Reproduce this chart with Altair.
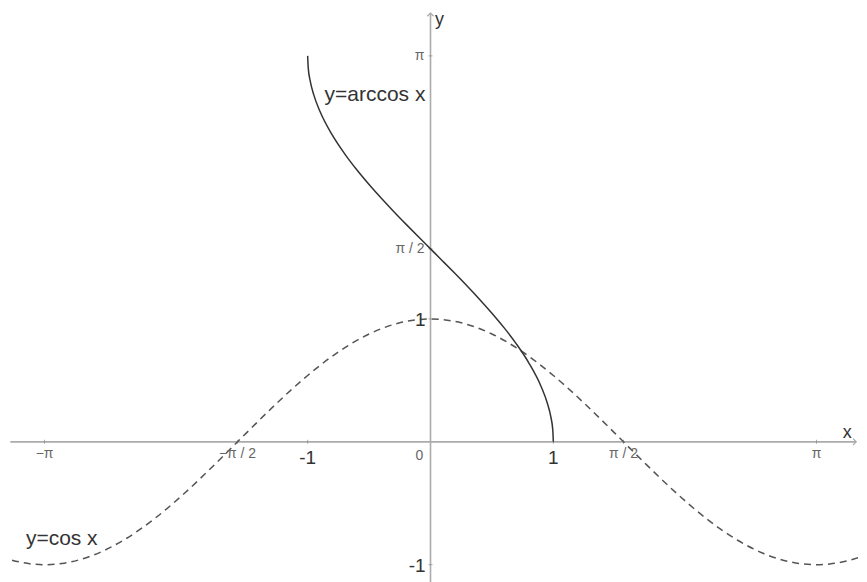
import altair as alt
import pandas as pd

# y = cos x
cos_x = [-3.5, -3.25, -3.1416, -3.0, -2.75, -2.5, -2.25, -2.0, -1.75, -1.5708, -1.5, -1.25,
         -1.0, -0.75, -0.5, -0.25, 0.0, 0.25, 0.5, 0.75, 1.0, 1.25, 1.5, 1.5708, 1.75,
         2.0, 2.25, 2.5, 2.75, 3.0, 3.1416, 3.25, 3.5, 3.6]
cos_y = [-0.9365, -0.9941, -1.0, -0.9900, -0.9243, -0.8011, -0.6282, -0.4161, -0.1782, 0.0, 0.0707, 0.3153,
         0.5403, 0.7317, 0.8776, 0.9689, 1.0, 0.9689, 0.8776, 0.7317, 0.5403, 0.3153, 0.0707, 0.0, -0.1782,
         -0.4161, -0.6282, -0.8011, -0.9243, -0.9900, -1.0, -0.9941, -0.9365, -0.8968]

# y = arccos x (solid curve)
acos_x = [-1.0, -0.995, -0.98, -0.95, -0.9, -0.8, -0.7, -0.6, -0.5, -0.4, -0.3, -0.2, -0.1, 0.0,
          0.1, 0.2, 0.3, 0.4, 0.5, 0.6, 0.7, 0.8, 0.9, 0.95, 0.98, 0.995, 1.0]
acos_y = [3.1416, 3.0415, 2.9413, 2.8240, 2.6906, 2.4981, 2.3462, 2.2143, 2.0944, 1.9823, 1.8755, 1.7722, 1.6710, 1.5708,
          1.4706, 1.3694, 1.2661, 1.1593, 1.0472, 0.9273, 0.7954, 0.6435, 0.4510, 0.3176, 0.2003, 0.1001, 0.0]

# axis tick labels
x_small_ticks = [-3.1416, -1.5708, 1.5708, 3.1416]
x_small_labels = ["\u2212\u03c0", "\u2212\u03c0 / 2", "\u03c0 / 2", "\u03c0"]
x_big_ticks = [-1.0, 1.0]
x_big_labels = ["-1", "1"]
y_small_ticks = [3.1416, 1.5708]
y_small_labels = ["\u03c0", "\u03c0 / 2"]
y_big_ticks = [1.0, -1.0]
y_big_labels = ["1", "-1"]

# axis extents
x_axis_from, x_axis_to = -3.42, 3.465
y_axis_from, y_axis_to = -1.2, 3.49

# curve names
curve_names = ["y=arccos x", "y=cos x"]
curve_name_x = [-0.862, -3.293]
curve_name_y = [2.821, -0.789]

XDOM = [-3.439, 3.4797]
YDOM = [-1.0732, 3.5285]
FONT = "Liberation Sans"

xs = alt.Scale(domain=XDOM, nice=False, zero=False)
ys = alt.Scale(domain=YDOM, nice=False, zero=False)


def X(field="x"):
    return alt.X(field, type="quantitative", scale=xs, axis=None)


def Y(field="y"):
    return alt.Y(field, type="quantitative", scale=ys, axis=None)


cos_df = pd.DataFrame({"x": cos_x, "y": cos_y})
acos_df = pd.DataFrame({"x": acos_x, "y": acos_y})

axis_color = "#ababab"

xaxis = alt.Chart(pd.DataFrame({"x": [x_axis_from], "x2": [x_axis_to], "y": [0.0]})).mark_rule(
    color=axis_color, strokeWidth=1.6).encode(x=X(), x2="x2:Q", y=Y())
yaxis = alt.Chart(pd.DataFrame({"x": [0.0], "y": [y_axis_from], "y2": [y_axis_to]})).mark_rule(
    color=axis_color, strokeWidth=1.6).encode(x=X(), y=Y(), y2="y2:Q")

xarrow = alt.Chart(pd.DataFrame({"x": [x_axis_to], "y": [0.0]})).mark_point(
    shape="M-1,-1L0,0L-1,1", size=40, filled=False, color=axis_color, strokeWidth=1.2, opacity=1
).encode(x=X(), y=Y())
yarrow = alt.Chart(pd.DataFrame({"x": [0.0], "y": [y_axis_to]})).mark_point(
    shape="M-1,1L0,0L1,1", size=40, filled=False, color=axis_color, strokeWidth=1.2, opacity=1
).encode(x=X(), y=Y())

xt_df = pd.DataFrame({"x": x_small_ticks + x_big_ticks, "y": [0.0] * 6})
xticks = alt.Chart(xt_df).mark_tick(orient="vertical", size=4, thickness=1, color="#888").encode(x=X(), y=Y())
yt_df = pd.DataFrame({"y": y_small_ticks + y_big_ticks, "x": [0.0] * 4})
yticks = alt.Chart(yt_df).mark_tick(orient="horizontal", size=4, thickness=1, color="#888").encode(x=X(), y=Y())

cos_line = alt.Chart(cos_df).mark_line(
    color="#555555", strokeWidth=1.5, strokeDash=[7, 5], interpolate="monotone", clip=True
).encode(x=X(), y=Y(), order="x:Q")
acos_line = alt.Chart(acos_df).mark_line(
    color="#333333", strokeWidth=1.5, interpolate="monotone", clip=True
).encode(x=X(), y=Y(), order="x:Q")

xl_small = alt.Chart(pd.DataFrame({"x": x_small_ticks, "y": [0.0] * 4, "t": x_small_labels})).mark_text(
    font=FONT, fontSize=14, color="#666666", baseline="alphabetic", align="center", dy=16
).encode(x=X(), y=Y(), text="t:N")
xl_big = alt.Chart(pd.DataFrame({"x": x_big_ticks, "y": [0.0] * 2, "t": x_big_labels})).mark_text(
    font=FONT, fontSize=19, color="#333333", baseline="alphabetic", align="center", dy=22
).encode(x=X(), y=Y(), text="t:N")
zero = alt.Chart(pd.DataFrame({"x": [0.0], "y": [0.0], "t": ["0"]})).mark_text(
    font=FONT, fontSize=14, color="#666666", baseline="alphabetic", align="center", dx=-11, dy=18
).encode(x=X(), y=Y(), text="t:N")
yl_small = alt.Chart(pd.DataFrame({"x": [0.0] * 2, "y": y_small_ticks, "t": y_small_labels})).mark_text(
    font=FONT, fontSize=14, color="#666666", baseline="middle", align="right", dx=-6
).encode(x=X(), y=Y(), text="t:N")
yl_big = alt.Chart(pd.DataFrame({"x": [0.0] * 2, "y": y_big_ticks, "t": y_big_labels})).mark_text(
    font=FONT, fontSize=19, color="#333333", baseline="middle", align="right", dx=-5, dy=1
).encode(x=X(), y=Y(), text="t:N")

xname = alt.Chart(pd.DataFrame({"x": [x_axis_to], "y": [0.0], "t": ["x"]})).mark_text(
    font=FONT, fontSize=18, color="#333333", baseline="alphabetic", align="center", dx=-9, dy=-4
).encode(x=X(), y=Y(), text="t:N")
yname = alt.Chart(pd.DataFrame({"x": [0.0], "y": [y_axis_to], "t": ["y"]})).mark_text(
    font=FONT, fontSize=18, color="#333333", baseline="alphabetic", align="center", dx=9, dy=12
).encode(x=X(), y=Y(), text="t:N")

names = alt.Chart(pd.DataFrame({"x": curve_name_x, "y": curve_name_y, "t": curve_names})).mark_text(
    font=FONT, fontSize=21, color="#333333", baseline="middle", align="left"
).encode(x=X(), y=Y(), text="t:N")

chart = alt.layer(
    xaxis, yaxis, xarrow, yarrow, xticks, yticks, cos_line, acos_line,
    xl_small, xl_big, zero, yl_small, yl_big, xname, yname, names
).properties(width=851, height=566, padding=0, background="white").configure_view(stroke=None)

chart.save("out.html", embed_options={"renderer": "svg", "actions": False})
